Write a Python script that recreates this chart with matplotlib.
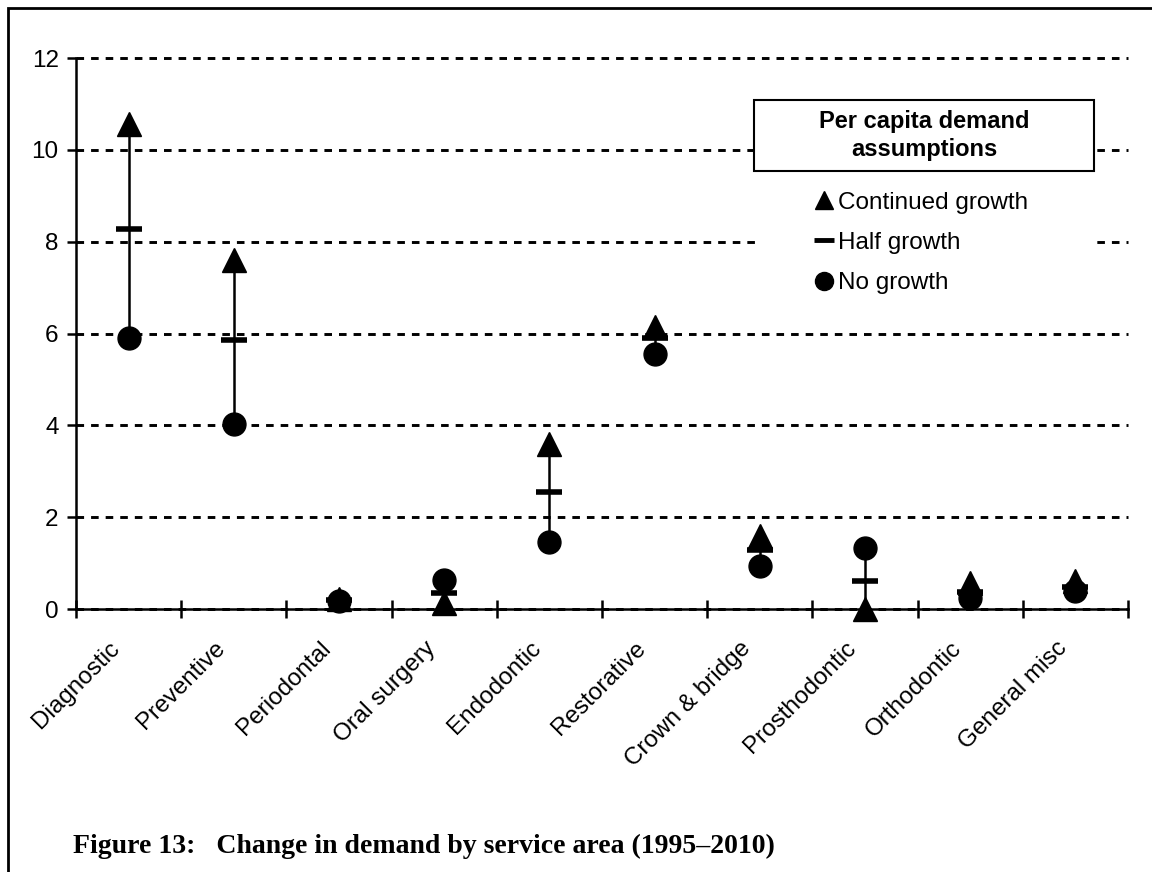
import numpy as np
import matplotlib
matplotlib.use('Agg')
import matplotlib.pyplot as plt
from matplotlib.lines import Line2D
from matplotlib.patches import Rectangle
from matplotlib.transforms import ScaledTranslation

plt.rcParams['font.family'] = ['Liberation Sans', 'DejaVu Sans']

categories = ['Diagnostic', 'Preventive', 'Periodontal', 'Oral surgery',
              'Endodontic', 'Restorative', 'Crown & bridge', 'Prosthodontic',
              'Orthodontic', 'General misc']
continued = [10.57, 7.6, 0.22, 0.13, 3.6, 6.15, 1.6, 0.0, 0.57, 0.6]
half = [8.27, 5.85, 0.2, 0.35, 2.55, 5.9, 1.28, 0.62, 0.37, 0.47]
no_growth = [5.9, 4.03, 0.18, 0.63, 1.46, 5.55, 0.94, 1.32, 0.25, 0.4]

x = np.arange(len(categories)) + 0.5
lo = np.minimum(np.minimum(continued, half), no_growth)
hi = np.maximum(np.maximum(continued, half), no_growth)

fig = plt.figure(figsize=(11.52, 8.72), dpi=100)
ax = fig.add_axes([76 / 1152, 1 - 609 / 872, 1052 / 1152, 551 / 872])

ax.set_xlim(0, 10)
ax.set_ylim(0, 12)
ax.set_axisbelow(True)

# high-low lines and the three markers
ax.vlines(x, lo, hi, color='black', lw=1.8, zorder=2)
ax.plot(x, continued, '^', color='black', ms=17, zorder=3, clip_on=False)
ax.plot(x, no_growth, 'o', color='black', ms=16.5, zorder=3, clip_on=False)
ax.plot(x, half, '_', color='black', ms=19, mew=4, zorder=4, clip_on=False)

# axes look
for s in ['top', 'right']:
    ax.spines[s].set_visible(False)
ax.spines['left'].set_linewidth(1.8)
ax.spines['bottom'].set_linewidth(1.8)
ax.yaxis.grid(True, color='black', lw=2.1, linestyle=(0, (2.6, 2.4)))
for gl in ax.get_ygridlines():
    gl.set_clip_on(False)

ax.set_yticks(range(0, 13, 2))
ax.tick_params(axis='y', direction='out', length=6.5, width=1.8,
               labelsize=17.5, pad=6)
ax.set_xticks(x)
ax.set_xticklabels(categories, rotation=45, ha='right', va='center',
                   rotation_mode='anchor', fontsize=17.5)
ax.tick_params(axis='x', which='major', length=0, pad=0)
ax.set_xticks(np.arange(0, 11), minor=True)
ax.tick_params(axis='x', which='minor', direction='inout', length=12.5,
               width=1.8)
off = ScaledTranslation(-12 / 100, -36 / 100, fig.dpi_scale_trans)
for lab in ax.get_xticklabels():
    lab.set_transform(lab.get_transform() + off)

# legend area: white patch hiding gridlines, title box, then entries
ax.add_patch(Rectangle((0.65, 0.55), 0.317, 0.24, transform=ax.transAxes,
                       facecolor='white', edgecolor='none', zorder=1))
ax.add_patch(Rectangle((0.6445, 0.795), 0.3232, 0.1289, transform=ax.transAxes,
                       facecolor='white', edgecolor='black', lw=1.5, zorder=5))
ax.text(0.806, 0.859, 'Per capita demand\nassumptions', transform=ax.transAxes,
        ha='center', va='center', fontsize=17, fontweight='bold',
        linespacing=1.3, zorder=6)

handles = [Line2D([], [], marker='^', color='black', ls='none', ms=13),
           Line2D([], [], marker='_', color='black', ls='none', ms=14, mew=3.5),
           Line2D([], [], marker='o', color='black', ls='none', ms=13)]
ax.legend(handles, ['Continued growth', 'Half growth', 'No growth'],
          loc='upper left', bbox_to_anchor=(0.7025, 0.7575), frameon=False,
          fontsize=17.5, handlelength=0.7, handletextpad=0.25,
          labelspacing=0.75, borderpad=0, borderaxespad=0)

# outer frame and caption
fig.add_artist(Rectangle((8 / 1152, -0.05), 1.2, 1 - 8 / 872 + 0.05,
                         transform=fig.transFigure, facecolor='none',
                         edgecolor='black', lw=2, clip_on=False))
fig.text(73 / 1152, 1 - 853 / 872,
         'Figure 13:   Change in demand by service area (1995\u20132010)',
         family=['Liberation Serif', 'DejaVu Serif'], fontweight='bold',
         fontsize=20, ha='left', va='baseline')

fig.savefig('out.png', dpi=100)
